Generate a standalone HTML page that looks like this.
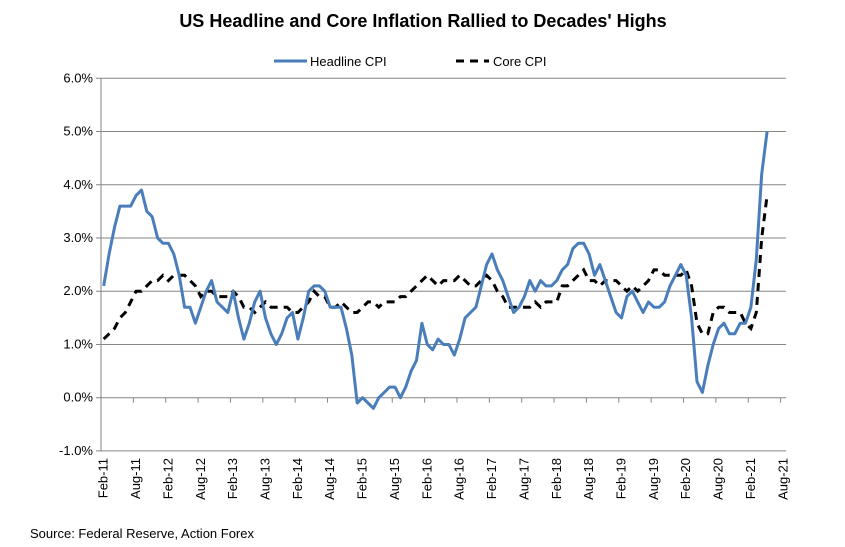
<!DOCTYPE html>
<html><head><meta charset="utf-8"><style>
body{margin:0;background:#fff;font-family:"Liberation Sans",Arial,sans-serif}
svg{display:block}
</style></head><body>
<svg width="845" height="547" viewBox="0 0 845 547" font-family="Liberation Sans, Arial, sans-serif">
<text x="423" y="27" text-anchor="middle" font-size="18" font-weight="bold">US Headline and Core Inflation Rallied to Decades' Highs</text>
<g>
<line x1="274" y1="61" x2="307" y2="61" stroke="#4a7ebb" stroke-width="3"/>
<text x="310" y="66" font-size="13">Headline CPI</text>
<line x1="456" y1="61" x2="489" y2="61" stroke="#000" stroke-width="3" stroke-dasharray="8,6"/>
<text x="493" y="66" font-size="13">Core CPI</text>
</g>
<g id="grid"></g><g id="axes"></g><g id="series"></g>
<text x="30" y="538" font-size="13">Source: Federal Reserve, Action Forex</text>
</svg>
<script>
const months=["Jan","Feb","Mar","Apr","May","Jun","Jul","Aug","Sep","Oct","Nov","Dec"];
const yTicks=[-1,0,1,2,3,4,5,6];
const headline=[2.1,2.7,3.2,3.6,3.6,3.6,3.8,3.9,3.5,3.4,3.0,
2.9,2.9,2.7,2.3,1.7,1.7,1.4,1.7,2.0,2.2,1.8,1.7,
1.6,2.0,1.5,1.1,1.4,1.8,2.0,1.5,1.2,1.0,1.2,1.5,
1.6,1.1,1.5,2.0,2.1,2.1,2.0,1.7,1.7,1.7,1.3,0.8,
-0.1,0.0,-0.1,-0.2,0.0,0.1,0.2,0.2,0.0,0.2,0.5,0.7,
1.4,1.0,0.9,1.1,1.0,1.0,0.8,1.1,1.5,1.6,1.7,2.1,
2.5,2.7,2.4,2.2,1.9,1.6,1.7,1.9,2.2,2.0,2.2,2.1,
2.1,2.2,2.4,2.5,2.8,2.9,2.9,2.7,2.3,2.5,2.2,1.9,
1.6,1.5,1.9,2.0,1.8,1.6,1.8,1.7,1.7,1.8,2.1,2.3,
2.5,2.3,1.5,0.3,0.1,0.6,1.0,1.3,1.4,1.2,1.2,1.4,
1.4,1.7,2.6,4.2,5.0];
const core=[1.1,1.2,1.3,1.5,1.6,1.8,2.0,2.0,2.1,2.2,2.2,
2.3,2.2,2.3,2.3,2.3,2.2,2.1,1.9,2.0,2.0,1.9,1.9,
1.9,2.0,1.9,1.7,1.7,1.6,1.7,1.8,1.7,1.7,1.7,1.7,
1.6,1.6,1.7,1.8,2.0,1.9,1.9,1.7,1.7,1.8,1.7,1.6,
1.6,1.7,1.8,1.8,1.7,1.8,1.8,1.8,1.9,1.9,2.0,2.1,
2.2,2.3,2.2,2.1,2.2,2.2,2.2,2.3,2.2,2.1,2.1,2.2,
2.3,2.2,2.0,1.9,1.7,1.7,1.7,1.7,1.7,1.8,1.7,1.8,
1.8,1.8,2.1,2.1,2.2,2.3,2.4,2.2,2.2,2.1,2.2,2.2,
2.2,2.1,2.0,2.1,2.0,2.1,2.2,2.4,2.4,2.3,2.3,2.3,
2.3,2.4,2.1,1.4,1.2,1.2,1.6,1.7,1.7,1.6,1.6,1.6,
1.4,1.3,1.6,3.0,3.8];
const nCat=127, x0=101, x1=786, yTop=78.3, yZero=397.7;
const unit=(yZero-yTop)/6;
const xs=i=>x0+(i+0.5)*(x1-x0)/nCat;
const ys=v=>yZero-v*unit;
const NS="http://www.w3.org/2000/svg";
function mk(tag,attrs,parent){const e=document.createElementNS(NS,tag);for(const k in attrs)e.setAttribute(k,attrs[k]);parent.appendChild(e);return e;}
const grid=document.getElementById('grid'),axes=document.getElementById('axes'),series=document.getElementById('series');
yTicks.forEach(t=>{
 const l=mk('line',{x1:x0-5,x2:x1,y1:ys(t),y2:ys(t),stroke:'#868686','stroke-width':1},grid);
 
 
 const tx=mk('text',{x:x0-8,y:ys(t)+4,'text-anchor':'end','font-size':13},axes);
 tx.textContent=t.toFixed(1)+'%';
 
 
});
const ya=mk('line',{x1:x0,x2:x0,y1:yTop,y2:ys(-1),stroke:'#868686'},axes);


for(let i=0;i<=nCat;i+=6){
 const xx=x0+i*(x1-x0)/nCat;
 const tk=mk('line',{x1:xx,x2:xx,y1:yZero,y2:yZero+5,stroke:'#868686'},axes);
 
 
}
for(let i=0;i<nCat;i+=6){
 const m=(1+i)%12, yr=11+Math.floor((1+i)/12);
 const xx=xs(i)+4;
 const tx=mk('text',{x:xx,y:458,'text-anchor':'end','font-size':13,transform:`rotate(-90 ${xx} 458)`},axes);
 tx.textContent=months[m]+'-'+yr;
 
 
}
function path(arr){return arr.map((v,i)=>(i?'L':'M')+xs(i).toFixed(1)+','+ys(v).toFixed(1)).join('');}
const cp=mk('path',{d:path(core),fill:'none',stroke:'#000','stroke-width':3,'stroke-dasharray':'8,6'},series);


const hp=mk('path',{d:path(headline),fill:'none',stroke:'#4a7ebb','stroke-width':3,'stroke-linejoin':'round'},series);


</script>
</body></html>
